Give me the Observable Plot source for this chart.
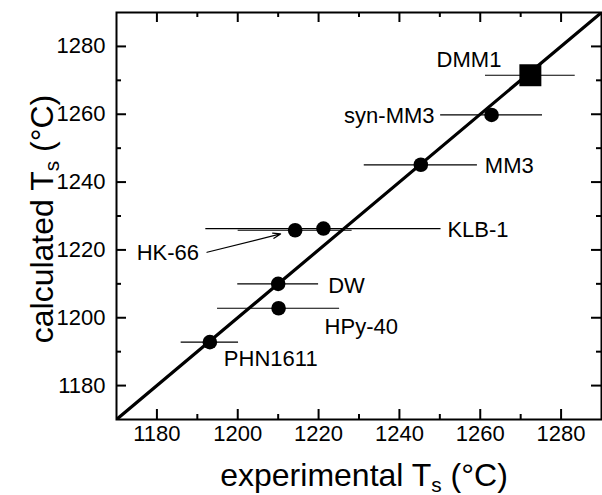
<!DOCTYPE html>
<html><head><meta charset="utf-8">
<script src="https://cdn.jsdelivr.net/npm/d3@7"></script>
<script src="https://cdn.jsdelivr.net/npm/@observablehq/plot@0.6"></script>
<style>
body{margin:0;background:#fff}
#chart svg{display:block}
</style>
</head><body><div id="chart"></div>
<script>
// ---- data ----
const samples = ["DMM1", "syn-MM3", "MM3", "KLB-1", "HK-66", "DW", "HPy-40", "PHN1611"];
const experimental = [1272.4, 1262.8, 1245.3, 1221.2, 1214.2, 1210.0, 1210.1, 1193.1];
const calculated   = [1271.5, 1259.8, 1245.1, 1226.3, 1225.8, 1210.0, 1202.8, 1192.8];
const experimentalError = [11.1, 12.6, 14.0, 29.1, 14.1, 10.0, 15.1, 7.1];
const majorTicks = [1180, 1200, 1220, 1240, 1260, 1280];
const minorTicks = [1190, 1210, 1230, 1250, 1270];
const axisDomain = [1170, 1290];
const xTitle = "experimental T_s (°C)";
const yTitle = "calculated T_s (°C)";
const hk66Callout = [{experimental: 1192.4, calculated: 1219.3}];

// ---- layout / style ----
const FONT = "'Liberation Sans', Arial, Helvetica, sans-serif";
const W = 602, H = 495, ML = 116, MR = 1, MT = 12, MB = 76;
const innerW = W - ML - MR, innerH = H - MT - MB;
const MAJOR = 10, MINOR = 5, TICKW = 2;
const labelLayout = {
  "DMM1":    {dx: -29, dy: -15, textAnchor: "end"},
  "syn-MM3": {dx: -57, dy: 1,   textAnchor: "end"},
  "MM3":     {dx: 64,  dy: 1,   textAnchor: "start"},
  "KLB-1":   {dx: 124, dy: 1,   textAnchor: "start"},
  "DW":      {dx: 50,  dy: 2,   textAnchor: "start"},
  "HPy-40":  {dx: 46,  dy: 19,  textAnchor: "start"},
  "PHN1611": {dx: 14,  dy: 17,  textAnchor: "start"}
};

const rows = samples.map((s, i) => ({
  sample: s, exp: experimental[i], calc: calculated[i], err: experimentalError[i]
}));
const squares = rows.filter(d => d.sample === "DMM1");
const circles = rows.filter(d => d.sample !== "DMM1");
const hk66 = rows.find(d => d.sample === "HK-66");
const arrowData = hk66Callout.map(c => ({x1: c.experimental, y1: c.calculated, x2: hk66.exp, y2: hk66.calc}));

const fmt = d => String(d);

const labelMarks = rows.filter(d => labelLayout[d.sample]).map(d =>
  Plot.text([d], {x: "exp", y: "calc", text: "sample", fontSize: 22, fill: "black", ...labelLayout[d.sample]})
);

// inward ticks on all four sides
function tickMarks(values, len) {
  const st = {stroke: "black", strokeWidth: TICKW};
  return [
    Plot.tickX(values, {x: d => d, insetTop: innerH - len, ...st}),
    Plot.tickX(values, {x: d => d, insetBottom: innerH - len, ...st}),
    Plot.tickY(values, {y: d => d, insetRight: innerW - len, ...st}),
    Plot.tickY(values, {y: d => d, insetLeft: innerW - len, ...st})
  ];
}

const chart = Plot.plot({
  width: W,
  height: H,
  marginLeft: ML,
  marginRight: MR,
  marginTop: MT,
  marginBottom: MB,
  style: {fontFamily: FONT, background: "white", color: "black"},
  x: {domain: axisDomain, label: null},
  y: {domain: axisDomain, label: null},
  marks: [
    // tick labels
    Plot.axisX(majorTicks, {anchor: "bottom", tickSize: 0, tickPadding: 6, fontSize: 22, tickFormat: fmt, label: null}),
    Plot.axisY(majorTicks, {anchor: "left", tickSize: 0, tickPadding: 11, fontSize: 22, tickFormat: fmt, label: null}),
    ...tickMarks(majorTicks, MAJOR),
    ...tickMarks(minorTicks, MINOR),
    Plot.frame({stroke: "black", strokeWidth: 2}),
    // 1:1 line
    Plot.line(axisDomain.map(v => ({v})), {x: "v", y: "v", stroke: "black", strokeWidth: 3.2, clip: true}),
    // horizontal error bars
    Plot.ruleY(rows, {y: "calc", x1: d => d.exp - d.err, x2: d => d.exp + d.err, stroke: "black", strokeWidth: 1.2}),
    // points
    Plot.dot(circles, {x: "exp", y: "calc", r: 7.3, fill: "black", stroke: null, symbol: "circle"}),
    Plot.dot(squares, {x: "exp", y: "calc", r: 12.4, fill: "black", stroke: null, symbol: "square"}),
    // labels
    ...labelMarks,
    Plot.text(hk66Callout, {x: "experimental", y: "calculated", text: () => "HK-66", fontSize: 22, textAnchor: "end", dx: -8, dy: 1}),
    Plot.arrow(arrowData, {x1: "x1", y1: "y1", x2: "x2", y2: "y2", insetEnd: 15, stroke: "black", strokeWidth: 1.2, headLength: 10, headAngle: 40}),
    // axis titles
    Plot.text([xTitle], {frameAnchor: "bottom", text: d => d, fontSize: 32, textAnchor: "middle", lineAnchor: "middle", dy: 56, dx: 5}),
    Plot.text([yTitle], {frameAnchor: "left", text: d => d, fontSize: 32, textAnchor: "middle", lineAnchor: "middle", rotate: -90, dx: -74, dy: 3})
  ]
});

// render "T_s" with a real subscript
const NS = "http://www.w3.org/2000/svg";
chart.querySelectorAll("text").forEach(t => {
  const s = t.textContent;
  if (!s.includes("T_s")) return;
  const [before, after] = s.split("T_s");
  while (t.firstChild) t.removeChild(t.firstChild);
  const a = document.createElementNS(NS, "tspan"); a.textContent = before + "T";
  const b = document.createElementNS(NS, "tspan"); b.textContent = "s";
  b.setAttribute("font-size", "65%"); b.setAttribute("dy", "6");
  const c = document.createElementNS(NS, "tspan"); c.textContent = after; c.setAttribute("dy", "-6");
  t.append(a, b, c);
});

document.getElementById("chart").appendChild(chart);
</script>
</body></html>
